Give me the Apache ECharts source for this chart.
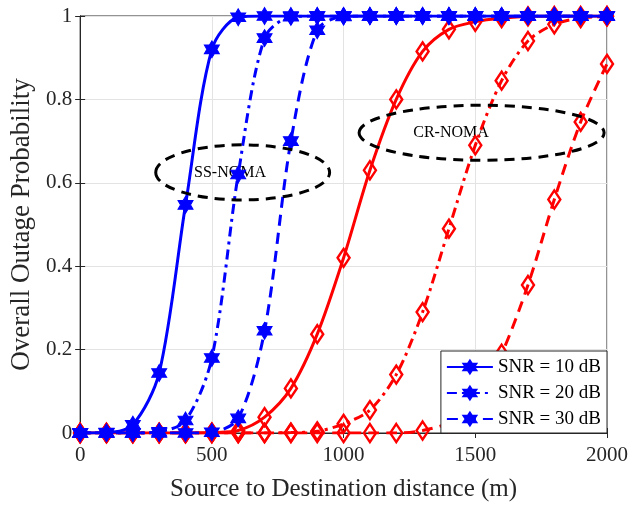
<!DOCTYPE html>
<html>
<head>
<meta charset="utf-8">
<script src="https://cdn.jsdelivr.net/npm/echarts@6/dist/echarts.min.js"></script>
<style>
  html, body { margin: 0; padding: 0; background: #fff; }
  #chart { width: 643px; height: 507px; }
</style>
</head>
<body>
<div id="chart"></div>
<script>
// distance in m, one point every 100 m
const distance = [0, 100, 200, 300, 400, 500, 600, 700, 800, 900, 1000,
  1100, 1200, 1300, 1400, 1500, 1600, 1700, 1800, 1900, 2000];
const xTicks = [0, 500, 1000, 1500, 2000];
const yTicks = [0, 0.2, 0.4, 0.6, 0.8, 1];

// SS-NOMA (blue)
const ss10 = [0, 0.001, 0.02, 0.144, 0.547, 0.92, 0.997, 1, 1, 1, 1, 1, 1, 1, 1, 1, 1, 1, 1, 1, 1];
const ss20 = [0, 0, 0, 0.003, 0.03, 0.18, 0.62, 0.947, 0.998, 1, 1, 1, 1, 1, 1, 1, 1, 1, 1, 1, 1];
const ss30 = [0, 0, 0, 0, 0, 0.002, 0.035, 0.245, 0.70, 0.966, 0.999, 1, 1, 1, 1, 1, 1, 1, 1, 1, 1];

// CR-NOMA (red)
const cr10 = [0, 0, 0, 0, 0, 0.001, 0.006, 0.038, 0.107, 0.237, 0.42, 0.63, 0.80, 0.915, 0.968, 0.986, 0.995, 0.999, 1, 1, 1];
const cr20 = [0, 0, 0, 0, 0, 0, 0, 0, 0.001, 0.004, 0.022, 0.055, 0.14, 0.29, 0.49, 0.69, 0.845, 0.94, 0.98, 0.995, 0.999];
const cr30 = [0, 0, 0, 0, 0, 0, 0, 0, 0, 0, 0, 0, 0, 0.006, 0.025, 0.075, 0.19, 0.355, 0.56, 0.746, 0.885];

const legendNames = ["SNR = 10 dB", "SNR = 20 dB", "SNR = 30 dB"];

// dashed ellipses around each group (data units)
const groups = [
  { label: "SS-NOMA", cx: 617, cy: 0.625, rx: 330, ry: 0.066, tx: 569 },
  { label: "CR-NOMA", cx: 1524, cy: 0.72, rx: 465, ry: 0.066, tx: 1408 }
];

const FONT = "Liberation Serif";
const AXIS = "#262626";
const hexagram = "path://M0,-10L2.887,-5L8.66,-5L5.77,0L8.66,5L2.887,5L0,10L-2.887,5L-8.66,5L-5.77,0L-8.66,-5L-2.887,-5Z";
const dashDot = [10, 5, 3, 5];
const dashed = [11, 7];

function pairs(ys) {
  return distance.map((d, i) => [d, ys[i]]);
}

function blueSeries(name, ys, dash) {
  return {
    name: name,
    type: "line",
    data: pairs(ys),
    smooth: 0.3,
    symbol: hexagram,
    symbolSize: [15, 17],
    showAllSymbol: true,
    lineStyle: { color: "#0000ff", width: 3, type: dash },
    itemStyle: { color: "#0000ff", borderColor: "#0000ff", borderWidth: 1 },
    z: 4
  };
}

function redSeries(name, ys, dash) {
  return {
    name: name,
    type: "line",
    data: pairs(ys),
    smooth: 0.3,
    symbol: "diamond",
    symbolSize: [12, 18],
    showAllSymbol: true,
    lineStyle: { color: "#ff0000", width: 3, type: dash },
    itemStyle: { color: "rgba(255,255,255,0)", borderColor: "#ff0000", borderWidth: 2.5 },
    z: 3
  };
}

const chart = echarts.init(document.getElementById("chart"));

chart.setOption({
  animation: false,
  backgroundColor: "#fff",
  grid: {
    left: 79, right: 36, top: 16, bottom: 74,
    show: true, borderColor: AXIS, borderWidth: 1
  },
  legend: {
    data: legendNames,
    orient: "vertical",
    right: 36,
    bottom: 74,
    backgroundColor: "#fff",
    borderColor: AXIS,
    borderWidth: 1,
    borderRadius: 0,
    padding: [6, 6, 4, 5],
    itemWidth: 46,
    itemHeight: 16,
    itemGap: 6,
    textStyle: { fontFamily: FONT, fontSize: 19, color: "#000", lineHeight: 20 },
    z: 10
  },
  xAxis: [{
    type: "value",
    min: 0, max: 2000, interval: 500,
    name: "Source to Destination distance (m)",
    nameLocation: "middle",
    nameGap: 44,
    nameTextStyle: { fontFamily: FONT, fontSize: 25, color: AXIS },
    axisLine: { lineStyle: { color: AXIS } },
    axisTick: { inside: true, length: 5, lineStyle: { color: AXIS } },
    axisLabel: {
      fontFamily: FONT, fontSize: 21, color: AXIS, margin: 12,
      formatter: v => xTicks.includes(v) ? String(v) : ""
    },
    splitLine: { lineStyle: { color: "#e3e3e3" } }
  }, {
    type: "value", position: "top",
    min: 0, max: 2000, interval: 500,
    axisLine: { lineStyle: { color: AXIS } },
    axisTick: { inside: true, length: 5, lineStyle: { color: AXIS } },
    axisLabel: { show: false },
    splitLine: { show: false }
  }],
  yAxis: [{
    type: "value",
    min: 0, max: 1, interval: 0.2,
    name: "Overall Outage Probability",
    nameLocation: "middle",
    nameGap: 40,
    nameTextStyle: { fontFamily: FONT, fontSize: 27, color: AXIS },
    axisLine: { show: true, lineStyle: { color: AXIS } },
    axisTick: { show: true, inside: true, length: 5, lineStyle: { color: AXIS } },
    axisLabel: {
      fontFamily: FONT, fontSize: 21, color: AXIS, margin: 8,
      formatter: v => {
        const t = yTicks.find(k => Math.abs(k - v) < 1e-9);
        return t === undefined ? "" : String(t);
      }
    },
    splitLine: { lineStyle: { color: "#e3e3e3" } }
  }, {
    type: "value", position: "right",
    min: 0, max: 1, interval: 0.2,
    axisLine: { show: true, lineStyle: { color: AXIS } },
    axisTick: { show: true, inside: true, length: 5, lineStyle: { color: AXIS } },
    axisLabel: { show: false },
    splitLine: { show: false }
  }],
  series: [
    redSeries("CR-NOMA, SNR = 10 dB", cr10, "solid"),
    redSeries("CR-NOMA, SNR = 20 dB", cr20, dashDot),
    redSeries("CR-NOMA, SNR = 30 dB", cr30, dashed),
    blueSeries(legendNames[0], ss10, "solid"),
    blueSeries(legendNames[1], ss20, dashDot),
    blueSeries(legendNames[2], ss30, dashed)
  ]
});

// place ellipses and their labels from data coordinates
const graphics = [];
groups.forEach(g => {
  const c = chart.convertToPixel({ gridIndex: 0 }, [g.cx, g.cy]);
  const ex = chart.convertToPixel({ gridIndex: 0 }, [g.cx + g.rx, g.cy]);
  const ey = chart.convertToPixel({ gridIndex: 0 }, [g.cx, g.cy + g.ry]);
  const t = chart.convertToPixel({ gridIndex: 0 }, [g.tx, g.cy]);
  graphics.push({
    type: "ellipse",
    shape: { cx: c[0], cy: c[1], rx: ex[0] - c[0], ry: c[1] - ey[1] },
    style: { fill: "none", stroke: "#000", lineWidth: 3, lineDash: [10, 7] },
    z: 5
  });
  graphics.push({
    type: "text",
    x: t[0], y: t[1],
    style: {
      text: g.label,
      font: "16px '" + FONT + "'",
      fill: "#000",
      align: "center", verticalAlign: "middle",
      textAlign: "center", textVerticalAlign: "middle"
    },
    z: 1
  });
});
chart.setOption({ graphic: graphics });
</script>
</body>
</html>
